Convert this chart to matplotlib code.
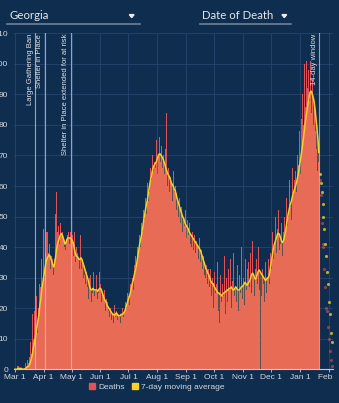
import pandas as pd
import matplotlib.pyplot as plt
from matplotlib.patches import Patch, Polygon
from matplotlib.lines import Line2D
from matplotlib.transforms import Bbox, TransformedBbox

# daily deaths by date of death, Mar 1 2020 onwards (one row per week)
deaths = [
    0, 0, 0, 1, 1, 0, 0,
    0, 0, 0, 1, 0, 2, 1,
    3, 2, 4, 9, 5, 18, 10,
    19, 15, 24, 12, 29, 20, 28,
    27, 36, 28, 46, 30, 38, 45,
    45, 38, 41, 33, 37, 30, 36,
    31, 36, 51, 58, 45, 47, 41,
    48, 44, 45, 43, 40, 39, 44,
    42, 44, 45, 41, 45, 42, 44,
    37, 45, 35, 40, 38, 36, 33,
    35, 44, 33, 36, 30, 31, 28,
    32, 27, 23, 30, 31, 22, 25,
    27, 32, 24, 26, 31, 23, 25,
    32, 28, 22, 25, 23, 26, 19,
    23, 18, 22, 19, 17, 20, 16,
    18, 15, 21, 17, 19, 16, 18,
    17, 15, 19, 18, 20, 17, 19,
    22, 20, 25, 24, 21, 28, 27,
    30, 26, 34, 31, 37, 33, 40,
    38, 44, 40, 48, 45, 52, 49,
    56, 51, 61, 55, 64, 58, 66,
    62, 70, 65, 68, 66, 75, 64,
    70, 76, 68, 73, 66, 89, 70,
    64, 72, 84, 60, 66, 58, 63,
    61, 55, 65, 58, 60, 52, 57,
    55, 50, 56, 48, 53, 45, 50,
    47, 52, 43, 49, 44, 48, 41,
    46, 40, 45, 39, 44, 38, 42,
    40, 36, 43, 35, 39, 33, 37,
    31, 36, 30, 34, 28, 33, 27,
    33, 24, 30, 20, 32, 25, 28,
    35, 19, 27, 15, 31, 22, 28,
    24, 37, 18, 30, 22, 33, 26,
    36, 20, 29, 17, 38, 24, 27,
    22, 34, 19, 31, 25, 40, 23,
    30, 21, 36, 26, 19, 33, 35,
    27, 38, 25, 42, 30, 24, 33,
    36, 28, 40, 26, 35, 30, 24,
    33, 28, 22, 35, 25, 30, 36,
    28, 38, 33, 45, 36, 48, 40,
    50, 38, 46, 52, 39, 41, 48,
    37, 45, 50, 44, 56, 47, 58,
    50, 62, 53, 49, 66, 57, 62,
    65, 58, 70, 67, 78, 64, 82,
    74, 90, 80, 100, 86, 101, 92,
    98, 88, 101, 84, 95, 80, 86,
    78, 70, 72, 65, 68,
]

moving_avg = [
    0, 0, 0, 0.1, 0.3, 0.3, 0.3,
    0.3, 0.1, 0, 0.1, 0.1, 0.4, 0.6,
    0.8, 1.0, 1.5, 2.5, 3.5, 5, 7,
    8.5, 10, 12, 14, 16, 18, 21,
    23, 26, 28, 30, 32, 34, 35.5,
    36.5, 37, 37.5, 37, 36, 35, 34,
    33.5, 35, 37, 39.5, 41, 42, 43,
    44, 44.5, 44, 43, 42, 41, 41.5,
    42.5, 43, 43, 43, 43, 42.5, 42,
    41, 39.5, 38, 37, 37, 36.5, 36,
    36, 36.5, 36, 35, 34, 33, 32,
    31, 30, 29, 27.5, 26.5, 26, 26,
    26.5, 26, 26, 26, 26, 25.5, 26,
    26.5, 26.5, 26, 25, 24, 23, 22.5,
    22, 21, 20.5, 20, 19.5, 19, 18.5,
    18, 18, 17.5, 18, 18.5, 18, 17.5,
    17.5, 17.5, 18, 18, 18, 18.5, 19,
    20, 21, 22, 23, 24, 25, 26.5,
    28, 29, 30.5, 32, 33, 35, 37,
    39, 41, 42.5, 44, 46, 48, 50,
    52, 53.5, 55, 57, 59, 61, 62.5,
    64, 65.5, 66.5, 67, 67.5, 68, 69,
    70, 70.5, 70.5, 70, 69.5, 69, 68,
    67, 66, 65, 64, 63.5, 63, 62,
    61, 60.5, 60, 59, 58.5, 57.5, 56,
    55, 54, 53, 52, 51, 50, 49.5,
    48.5, 47.5, 47, 46.5, 46, 45, 44.5,
    44, 43.5, 43, 42.5, 42, 41.5, 41,
    40.5, 40, 39.5, 39, 38, 37, 36,
    35, 34, 33, 32.5, 31.5, 31, 30,
    29, 28.5, 28, 28, 27, 26.5, 26,
    25.5, 25, 25, 24.5, 24.5, 24, 24.5,
    25, 25, 25.5, 25.5, 26, 26, 26.5,
    26.5, 27, 26.5, 26, 26, 26.5, 27,
    26.5, 26, 26, 26, 26.5, 27, 27,
    27.5, 28, 28.5, 28, 27.5, 28, 28.5,
    29, 30, 31, 31.5, 31, 30, 29.5,
    30, 31, 32, 32.5, 32, 31.5, 31,
    30.5, 30, 29.5, 29, 29.5, 30, 30,
    31, 33, 35, 37, 39, 40.5, 41.5,
    42.5, 43.5, 44.5, 44.5, 44, 43, 42,
    41.5, 42, 43, 44.5, 46.5, 48.5, 50.5,
    52, 53.5, 54.5, 55.5, 57, 58, 59,
    60, 61, 62.5, 64, 66, 68, 70,
    72, 74.5, 77, 79.5, 82, 84, 86,
    88, 90, 91, 91, 90, 89, 87.5,
    85, 82, 79, 75.5, 71,
]

# last 14 days, still incomplete
window_deaths = [62, 57, 48, 41, 40, 33, 27, 20, 19, 14, 10, 6, 3, 1]
window_avg = [64, 61, 58, 54, 50, 46, 41, 37, 32, 28, 22, 18, 12, 9]

events = [
    ("2020-03-23", "Large Gathering Ban"),
    ("2020-04-02", "Shelter in Place"),
    ("2020-04-30", "Shelter in Place extended for at risk"),
    ("2021-01-21 12:00", "14-day window"),
]

month_ticks = pd.date_range("2020-03-01", "2021-02-01", freq="MS")
month_labels = ["Mar 1", "Apr 1", "May 1", "Jun 1", "Jul 1", "Aug 1", "Sep 1",
                "Oct 1", "Nov 1", "Dec 1", "Jan 1", "Feb 1"]

BG = "#0f2d4f"
GRID = "#28466d"
TEXT = "#d3d8de"
RED = "#df5258"
YELLOW = "#f7d12a"

dates = pd.date_range("2020-03-01", periods=len(deaths), freq="D")
window_dates = pd.date_range(dates[-1] + pd.Timedelta(days=1), periods=len(window_deaths), freq="D")

W, H = 339, 403
fig = plt.figure(figsize=(W / 100, H / 100), dpi=100, facecolor=BG)
ax = fig.add_axes([14 / W, 1 - 369.3 / H, (333 - 14) / W, (369.3 - 33.3) / H])
ax.set_facecolor(BG)

ax.bar(dates, deaths, width=1.0, color=RED, linewidth=0, zorder=2)
ax.fill_between(dates, moving_avg, color=(1.0, 0.64, 0.33), alpha=0.31, linewidth=0, zorder=3)
ax.plot(dates, moving_avg, color=YELLOW, lw=1.1, zorder=5)

ax.scatter(window_dates, window_deaths, s=5, color=RED, alpha=0.6, linewidths=0, zorder=4)
ax.scatter(window_dates, window_avg, s=5, color="#e8cf2c", alpha=0.8, linewidths=0, zorder=4)

for day, label in events:
    when = pd.Timestamp(day)
    ax.axvline(when, color="#c9cdd5", lw=0.8, alpha=0.75, zorder=6)
    ax.annotate(label, xy=(when, 1), xycoords=("data", "axes fraction"),
                xytext=(-1.2, -0.5), textcoords="offset points",
                rotation=90, ha="right", va="top", fontsize=5.5,
                family="Liberation Sans", color="#dde1e6", zorder=7)

ax.set_xlim(pd.Timestamp("2020-02-29 07:00"), pd.Timestamp("2021-02-05 05:00"))
ax.set_ylim(0, 110)
ax.set_yticks(range(0, 111, 10))
ax.set_xticks(month_ticks, month_labels)

ax.grid(color=GRID, lw=0.6)
ax.set_axisbelow(True)
for side in ["left", "right", "top"]:
    ax.spines[side].set_visible(False)
ax.spines["bottom"].set_color("#c8ccd2")
ax.spines["bottom"].set_linewidth(0.8)
ax.spines["bottom"].set_zorder(8)

ax.tick_params(axis="x", colors="#c8ccd2", labelcolor=TEXT, length=2.5, width=0.6, pad=1, labelsize=6)
ax.tick_params(axis="y", length=0, pad=4.3, labelcolor=TEXT, labelsize=6)
for lbl in ax.get_xticklabels() + ax.get_yticklabels():
    lbl.set_family("Liberation Sans")

# the plot container cuts off the last month label
clip = TransformedBbox(Bbox.from_extents(0, 0, 333 / W, 1), fig.transFigure)
for lbl in ax.get_xticklabels():
    lbl.set_clip_box(clip)
    lbl.set_clip_on(True)

fig.legend(handles=[Patch(color=RED, label="Deaths"),
                    Patch(color=YELLOW, label="7-day moving average")],
           loc="center", bbox_to_anchor=(157 / W, 1 - 387.3 / H), ncol=2,
           frameon=False, prop={"family": "Liberation Sans", "size": 6},
           labelcolor=TEXT, handlelength=0.65, handleheight=0.65,
           handletextpad=0.4, columnspacing=0.9, borderaxespad=0)


def px(x, y):
    return (x / W, 1 - y / H)


# dropdown selectors above the chart
for x0, x1, tri_x, text in [(7, 140, 131.7, "Georgia"), (200, 291, 284.3, "Date of Death")]:
    fig.text(*px(x0 + 2.3, 15.5), text, ha="left", va="center", fontsize=8.2,
             family="Lato", color="#e2e6eb")
    fig.add_artist(Line2D([x0 / W, x1 / W], [1 - 23.5 / H] * 2, color="#6f8197", lw=1.2))
    fig.add_artist(Polygon([px(tri_x - 2.4, 14.6), px(tri_x + 2.4, 14.6), px(tri_x, 17.6)],
                           closed=True, color="#e8ecf0", transform=fig.transFigure))

fig.savefig("out.png", dpi=100, facecolor=BG)
